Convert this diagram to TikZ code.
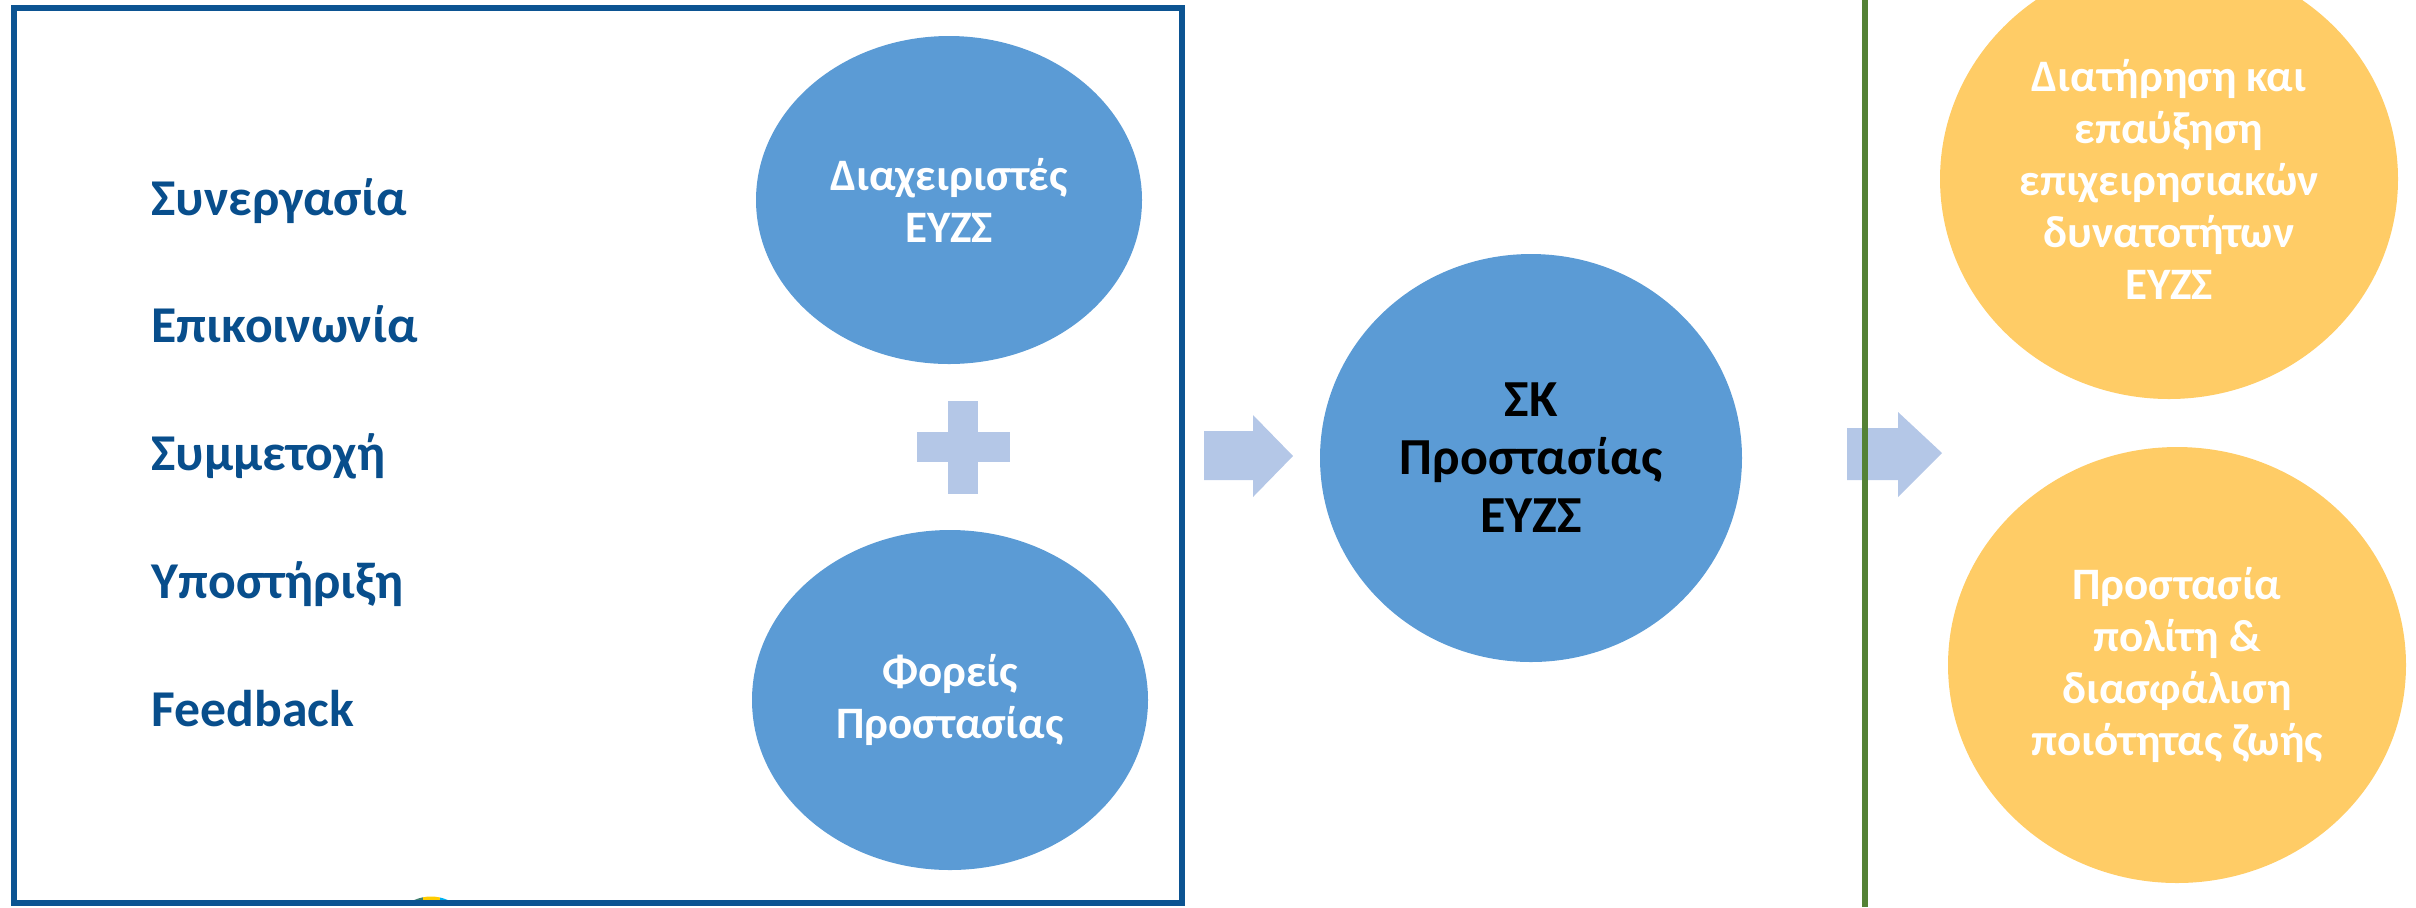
\documentclass[tikz,border=0pt]{standalone}
\usepackage{fontspec}
\setmainfont{Carlito}
\usetikzlibrary{shapes.geometric}

\definecolor{boxblue}{RGB}{12,84,146}
\definecolor{textblue}{RGB}{8,78,140}
\definecolor{discblue}{RGB}{91,155,213}
\definecolor{paleblue}{RGB}{180,199,231}
\definecolor{discorange}{RGB}{255,204,102}
\definecolor{linegreen}{RGB}{84,130,53}
\definecolor{logogreen}{RGB}{64,128,112}
\definecolor{logoyellow}{RGB}{255,204,0}
\definecolor{logocyan}{RGB}{0,176,240}

\tikzset{
  disc/.style={ellipse, inner sep=0pt, align=center, text=white,
    font=\fontsize{13.5}{15.6}\selectfont\bfseries},
  bluedisc/.style={disc, fill=discblue},
  orangedisc/.style={disc, fill=discorange},
  keyword/.style={anchor=base west, inner sep=0pt, text=textblue,
    font=\fontsize{15.5}{18}\selectfont\bfseries},
}

\begin{document}
\begin{tikzpicture}[x=0.3pt, y=-0.3pt]
    \useasboundingbox (0,0) rectangle (2416,907);
    \clip (0,0) rectangle (2416,907);

    % left box
    \node[keyword] (coop) at (151,215) {Συνεργασία};
    \node[keyword] (comm) at (151,342) {Επικοινωνία};
    \node[keyword] (part) at (151,470) {Συμμετοχή};
    \node[keyword] (supp) at (151,598) {Υποστήριξη};
    \node[keyword] (feed) at (151,726) {Feedback};

    \node[bluedisc, minimum width=115.8pt, minimum height=98.4pt] (mgr) at (949,200) {Διαχειριστές\\ΕΥΖΣ};
    \node[bluedisc, minimum width=118.8pt, minimum height=102pt] (agency) at (950,700) {Φορείς\\Προστασίας};

    \fill[paleblue] (948,400.5) rectangle (978,493.5);
    \fill[paleblue] (916.5,432) rectangle (1009.5,462);

    \begin{scope}
      \clip (431,938) circle [radius=41.5];
      \clip (380,880) rectangle (480,902);
      \fill[logogreen] (380,880) rectangle (423,902);
      \fill[logoyellow] (423,880) rectangle (440,902);
      \fill[logocyan] (440,880) rectangle (480,902);
    \end{scope}

    \draw[boxblue, line width=1.8pt] (14,8) rectangle (1182,903);

    % centre
    \fill[paleblue] (1204,431) -- (1253,431) -- (1253,415) -- (1293,456) -- (1253,497) -- (1253,480) -- (1204,480) -- cycle;
    \node[bluedisc, text=black, minimum width=126.6pt, minimum height=122.4pt,
      font=\fontsize{15.6}{17.4}\selectfont\bfseries] (core) at (1531,458) {ΣΚ\\Προστασίας\\ΕΥΖΣ};

    % outcomes
    \fill[paleblue] (1847,428) -- (1898,428) -- (1898,412) -- (1942,453) -- (1898,497) -- (1898,480) -- (1847,480) -- cycle;
    \draw[linegreen, line width=1.8pt] (1865,0) -- (1865,907);

    \node[orangedisc, minimum width=137.4pt, minimum height=132pt] (ops) at (2169,179) {Διατήρηση και\\επαύξηση\\επιχειρησιακών\\δυνατοτήτων\\ΕΥΖΣ};
    \node[orangedisc, minimum width=137.4pt, minimum height=130.8pt] (citizen) at (2177,665) {Προστασία\\πολίτη \&\\διασφάλιση\\ποιότητας ζωής};
\end{tikzpicture}
\end{document}
